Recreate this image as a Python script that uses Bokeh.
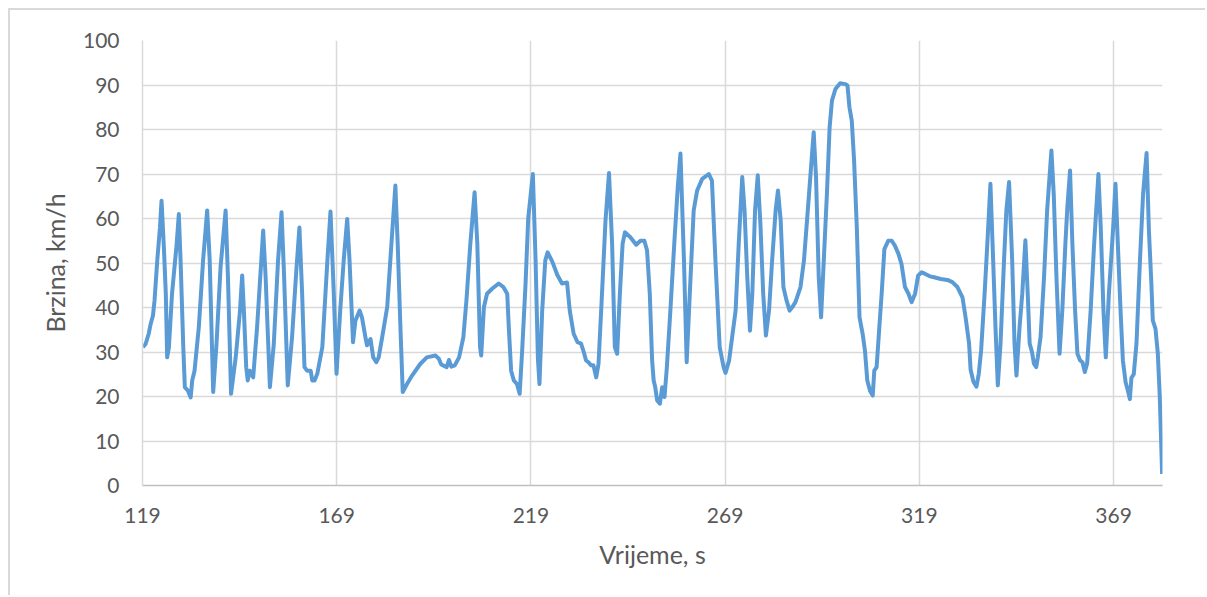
from bokeh.plotting import figure
from bokeh.models import Range1d, FixedTicker, ColumnDataSource
from bokeh.embed import file_html
from bokeh.resources import INLINE

time_s = [
    119.1, 119.8, 120.6, 121.1, 121.7, 122.1, 122.8, 123.5, 123.9, 124.5,
    125.0, 125.35, 125.8, 126.6, 127.8, 128.35, 128.8, 129.5, 129.9, 130.7,
    131.4, 131.8, 132.4, 133.5, 134.6, 135.65, 136.3, 137.2, 138.05, 139.1,
    140.4, 141.0, 141.8, 143.0, 144.1, 144.66, 145.1, 145.7, 146.1, 146.6,
    147.5, 148.5, 150.07, 150.7, 151.8, 152.8, 153.9, 154.8, 155.4, 156.4,
    157.5, 158.6, 159.4, 160.1, 160.7, 161.4, 162.3, 162.7, 163.3, 164.0,
    165.3, 166.6, 167.4, 168.25, 168.95, 169.9, 170.8, 171.7, 172.3, 173.2,
    173.8, 174.9, 175.5, 176.4, 176.8, 177.7, 178.4, 179.2, 179.8, 180.7,
    182.0, 182.8, 184.1, 184.7, 185.4, 186.0, 187.1, 188.4, 190.5, 192.2,
    194.4, 195.3, 195.9, 197.3, 197.9, 198.5, 199.4, 200.5, 201.6, 202.4,
    203.4, 204.5, 205.2, 205.9, 206.2, 206.9, 207.7, 209.0, 210.7, 211.9,
    212.9, 213.3, 213.9, 214.6, 215.4, 216.1, 216.7, 217.6, 218.3, 219.5,
    220.2, 220.8, 221.2, 221.9, 222.7, 223.3, 224.5, 225.8, 227.0, 228.3,
    229.0, 230.0, 231.0, 231.9, 232.6, 233.2, 233.8, 234.5, 235.1, 235.8,
    236.4, 237.3, 238.2, 239.1, 239.9, 240.6, 241.2, 241.9, 242.6, 243.2,
    244.6, 246.1, 247.2, 248.2, 248.9, 249.6, 250.2, 250.6, 251.0, 251.5,
    252.2, 252.8, 253.4, 254.0, 254.9, 255.9, 256.8, 257.5, 258.4, 259.1,
    259.9, 260.9, 261.8, 263.1, 264.8, 265.6, 266.5, 267.6, 268.6, 269.1,
    270.0, 270.8, 271.7, 272.5, 273.4, 274.0, 274.7, 275.4, 276.0, 276.7,
    277.4, 278.1, 278.8, 279.5, 280.3, 281.1, 282.0, 282.6, 283.3, 284.0,
    284.8, 285.6, 286.3, 287.1, 288.4, 289.3, 290.6, 291.8, 292.4, 293.1,
    293.7, 294.4, 295.2, 295.9, 296.5, 297.4, 298.6, 299.9, 300.5, 301.0,
    301.6, 302.2, 302.9, 303.6, 304.4, 305.0, 305.6, 306.3, 307.0, 307.4,
    308.0, 308.7, 309.3, 310.0, 311.0, 311.9, 312.7, 313.6, 314.4, 315.3,
    316.2, 317.0, 317.9, 318.7, 319.6, 320.4, 321.7, 322.8, 324.5, 326.2,
    327.5, 328.8, 330.1, 330.9, 331.8, 332.2, 332.9, 333.7, 334.3, 334.9,
    335.8, 336.5, 337.3, 338.0, 338.6, 339.2, 339.9, 340.8, 341.4, 342.1,
    342.9, 343.5, 344.0, 344.8, 345.5, 346.3, 346.9, 347.4, 348.0, 348.5,
    349.1, 349.5, 350.2, 351.1, 351.9, 353.0, 353.6, 354.3, 355.1, 355.8,
    356.6, 357.1, 357.8, 358.4, 359.1, 359.7, 360.4, 361.0, 361.6, 362.2,
    363.1, 364.0, 365.1, 365.7, 366.4, 367.0, 367.8, 368.9, 369.5, 370.1,
    370.8, 371.4, 372.1, 372.7, 373.2, 373.6, 374.2, 374.9, 375.8, 376.6,
    377.5, 378.1, 378.7, 379.1, 379.8, 380.4, 380.9, 381.5,
]

speed_kmh = [
    31.1, 31.8, 34.1, 36.3, 38.2, 41.6, 50.6, 58.0, 64.0, 53.6,
    43.1, 28.8, 31.1, 43.1, 54.3, 61.0, 50.6, 31.1, 22.1, 21.3,
    19.8, 23.6, 25.8, 35.6, 50.6, 61.8, 50.6, 21.0, 31.8, 49.1,
    61.8, 46.8, 20.6, 28.8, 39.3, 47.2, 39.3, 26.6, 23.6, 25.8,
    24.3, 35.6, 57.3, 46.8, 22.1, 31.8, 50.6, 61.4, 48.3, 22.5,
    33.3, 48.3, 58.0, 43.1, 26.6, 25.8, 25.8, 23.6, 23.6, 25.1,
    31.1, 50.6, 61.6, 43.1, 25.1, 39.3, 50.6, 59.9, 50.6, 32.2,
    37.0, 39.3, 37.8, 33.3, 31.5, 32.9, 28.8, 27.7, 28.8, 33.3,
    40.1, 50.6, 67.4, 54.3, 35.6, 21.0, 22.8, 24.7, 27.3, 28.8,
    29.2, 28.5, 27.2, 26.6, 28.2, 26.7, 27.0, 28.8, 33.3, 41.6,
    54.3, 65.9, 54.3, 31.1, 29.2, 40.1, 43.1, 44.2, 45.4, 44.6,
    43.1, 35.6, 25.8, 23.6, 22.8, 20.6, 29.6, 45.0, 60.0, 70.0,
    50.6, 28.5, 22.8, 39.3, 50.6, 52.4, 50.3, 47.3, 45.4, 45.6,
    39.3, 34.1, 32.2, 31.9, 30.0, 28.1, 27.7, 27.0, 27.0, 24.3,
    27.3, 43.1, 59.5, 70.2, 54.3, 31.1, 29.6, 43.1, 54.3, 56.9,
    55.8, 54.1, 55.0, 55.0, 52.8, 43.1, 28.1, 23.6, 22.1, 19.1,
    18.4, 22.1, 19.9, 26.6, 39.3, 54.3, 67.0, 74.6, 50.6, 27.7,
    43.1, 61.8, 66.3, 68.9, 70.0, 68.5, 50.6, 31.1, 26.6, 25.3,
    28.0, 33.3, 39.3, 54.3, 69.3, 61.8, 46.8, 34.8, 43.1, 61.8,
    69.7, 58.4, 43.1, 33.7, 39.3, 50.6, 61.8, 66.3, 59.6, 44.6,
    41.6, 39.3, 40.1, 41.2, 44.6, 50.6, 65.5, 79.4, 69.3, 46.8,
    37.8, 50.6, 65.5, 80.5, 86.5, 89.1, 90.4, 90.2, 89.9, 85.0,
    82.0, 73.0, 58.0, 37.8, 34.1, 30.3, 23.6, 21.3, 20.2, 25.8,
    26.6, 35.6, 43.1, 53.1, 55.0, 55.0, 53.9, 52.1, 49.8, 44.6,
    43.1, 41.2, 43.1, 47.2, 47.9, 47.6, 47.0, 46.8, 46.4, 46.2,
    45.7, 44.6, 42.3, 37.8, 31.9, 26.0, 23.4, 22.2, 25.1, 30.3,
    43.1, 54.3, 67.8, 50.6, 35.6, 22.5, 31.9, 50.6, 61.8, 68.2,
    50.6, 31.9, 24.7, 35.6, 43.1, 55.1, 43.1, 31.9, 30.0, 27.4,
    26.6, 28.8, 33.3, 46.8, 61.8, 75.3, 65.5, 46.8, 29.6, 39.3,
    54.3, 62.5, 70.8, 54.3, 39.3, 29.6, 28.1, 27.7, 25.5, 27.4,
    39.3, 54.3, 70.0, 58.0, 39.3, 28.8, 43.1, 58.0, 67.8, 54.3,
    39.3, 28.1, 23.2, 21.3, 19.4, 24.2, 25.0, 31.9, 50.6, 65.5,
    74.7, 57.3, 46.1, 37.1, 35.2, 29.6, 19.9, 2.6,
]

x_ticks = [119, 169, 219, 269, 319, 369]
y_ticks = [0, 10, 20, 30, 40, 50, 60, 70, 80, 90, 100]
x_title = "Vrijeme, s"
y_title = "Brzina, km/h"

FONT = "Lato"
TXT = "#595959"
GRID = "#d9d9d9"

src = ColumnDataSource(data=dict(t=time_s, v=speed_kmh))

p = figure(
    width=1197, height=587,
    output_backend="svg", toolbar_location=None,
    x_range=Range1d(119, 381.6), y_range=Range1d(0, 100),
    min_border_left=132, min_border_right=45,
    min_border_top=30, min_border_bottom=112,
    styles={"margin-top": "8px", "margin-left": "8px",
            "border-top": "2px solid #d9d9d9", "border-left": "2px solid #d9d9d9"},
)
p.outline_line_color = None
p.background_fill_color = "white"
p.border_fill_color = "white"

p.xaxis.ticker = FixedTicker(ticks=x_ticks)
p.yaxis.ticker = FixedTicker(ticks=y_ticks)
p.xgrid.ticker = FixedTicker(ticks=x_ticks)
p.ygrid.ticker = FixedTicker(ticks=y_ticks)

for g in (p.xgrid, p.ygrid):
    g.grid_line_color = GRID
    g.grid_line_width = 1.5

for ax in (p.xaxis, p.yaxis):
    ax.major_tick_line_color = None
    ax.minor_tick_line_color = None
    ax.major_label_text_font = FONT
    ax.major_label_text_font_size = "21px"
    ax.major_label_text_color = TXT
    ax.axis_label_text_font = FONT
    ax.axis_label_text_font_size = "25px"
    ax.axis_label_text_font_style = "normal"
    ax.axis_label_text_color = TXT

p.xaxis.axis_line_color = "#bfbfbf"
p.xaxis.axis_line_width = 1.5
p.yaxis.axis_line_color = GRID
p.yaxis.axis_line_width = 1.5

p.xaxis.major_label_standoff = 16
p.yaxis.major_label_standoff = 17
p.xaxis.axis_label = x_title
p.yaxis.axis_label = y_title
p.xaxis.axis_label_standoff = 13
p.yaxis.axis_label_standoff = 10

p.line("t", "v", source=src, line_color="#5B9BD5", line_width=4, line_join="round")

open("out.html", "w").write(file_html(p, INLINE))
